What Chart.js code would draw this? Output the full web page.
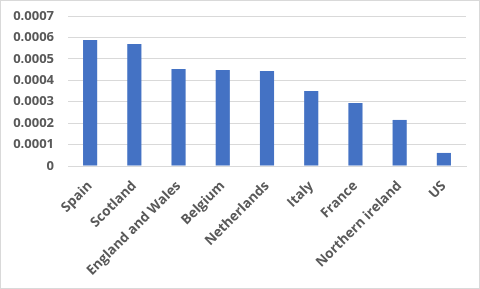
<!DOCTYPE html>
<html>
<head>
<meta charset="utf-8">
<script src="https://cdn.jsdelivr.net/npm/chart.js@4"></script>
<style>
  html, body { margin: 0; padding: 0; background: #fff; }
  #wrap {
    width: 480px; height: 289px; box-sizing: border-box;
    border: 1px solid #d9d9d9; position: relative;
  }
  canvas { display: block; }
</style>
</head>
<body>
<div id="wrap"><canvas id="chart" width="478" height="287"></canvas></div>
<script>
const countries = ['Spain', 'Scotland', 'England and Wales', 'Belgium', 'Netherlands', 'Italy', 'France', 'Northern ireland', 'US'];
const rates = [0.000588, 0.000569, 0.000453, 0.000448, 0.000443, 0.00035, 0.000294, 0.000215, 0.000061];
const yTickLabels = ['0', '0.0001', '0.0002', '0.0003', '0.0004', '0.0005', '0.0006', '0.0007'];

const yFont = { family: '"Open Sans", "Liberation Sans", sans-serif', size: 13, weight: 'bold' };
const xFont = { family: '"Open Sans", "Liberation Sans", sans-serif', size: 13.5, weight: 'bold' };
const labelColor = '#595959';

new Chart(document.getElementById('chart'), {
  type: 'bar',
  data: {
    labels: countries,
    datasets: [{
      data: rates,
      backgroundColor: '#4472c4',
      borderWidth: 0,
      barPercentage: 0.32,
      categoryPercentage: 1
    }]
  },
  options: {
    responsive: false,
    animation: false,
    layout: { padding: { top: 15, right: 13, left: 0, bottom: 0 } },
    plugins: { legend: { display: false }, tooltip: { enabled: false } },
    scales: {
      x: {
        grid: { display: false, drawTicks: false },
        border: { color: '#d9d9d9' },
        ticks: {
          font: xFont, color: labelColor,
          minRotation: 45, maxRotation: 45, autoSkip: false, padding: 12
        },
        // fixed plot box like the original
        afterFit: (scale) => { scale.height = 122; scale.paddingTop = 0; }
      },
      y: {
        min: 0, max: 0.0007,
        grid: { color: '#d9d9d9', drawTicks: false },
        border: { display: false },
        ticks: {
          stepSize: 0.0001,
          font: yFont, color: labelColor, padding: 14,
          callback: (value, i) => yTickLabels[i]
        },
        afterFit: (scale) => { scale.width = 67; scale.paddingTop = 0; }
      }
    }
  }
});
</script>
</body>
</html>
